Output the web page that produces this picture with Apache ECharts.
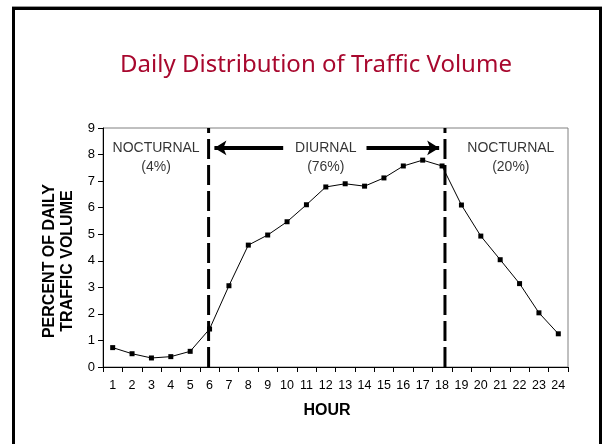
<!DOCTYPE html>
<html>
<head>
<meta charset="utf-8">
<script src="https://cdn.jsdelivr.net/npm/echarts@6/dist/echarts.min.js"></script>
<style>html,body{margin:0;padding:0;background:#fff;}#c{width:602px;height:444px;}</style>
</head>
<body>
<div id="c"></div>
<script>
// ---- data ----
const hours = ['1','2','3','4','5','6','7','8','9','10','11','12','13','14','15','16','17','18','19','20','21','22','23','24'];
const percentOfDaily = [0.73,0.50,0.34,0.39,0.59,1.43,3.06,4.59,4.97,5.47,6.11,6.78,6.90,6.81,7.12,7.57,7.79,7.57,6.10,4.93,4.04,3.14,2.04,1.25];
const yTicks = [0,1,2,3,4,5,6,7,8,9];
// period dividers (in hour-position units, 0..24)
const dividers = [5.45, 17.65];
// annotations: [x, y, text]
const periodLabels = [
  [2.74, 7.9, 'NOCTURNAL\n(4%)'],
  [11.5, 7.9, 'DIURNAL\n(76%)'],
  [21.05, 7.9, 'NOCTURNAL\n(20%)']
];
const arrows = [
  [[9.3, 8.25], [5.75, 8.25]],
  [[13.6, 8.25], [17.35, 8.25]]
];

const chart = echarts.init(document.getElementById('c'), null, {renderer:'canvas'});
const font = 'Liberation Sans, Arial, sans-serif';

const series = [{
  type: 'line',
  xAxisIndex: 0, yAxisIndex: 0,
  data: percentOfDaily,
  symbol: 'rect', symbolSize: 5,
  itemStyle: {color:'#000'},
  lineStyle: {color:'#000', width: 1},
  animation: false, z: 5
}];
dividers.forEach(function(d){
  series.push({
    type:'line', xAxisIndex:1, yAxisIndex:0,
    data:[[d,0],[d,9]], symbol:'none',
    lineStyle:{color:'#000', width:3, type:[20,6]},
    animation:false, z:4
  });
});
series.push({
  type:'scatter', xAxisIndex:1, yAxisIndex:0,
  symbolSize: 0,
  data: periodLabels.map(function(p){return {value:[p[0],p[1]], name:p[2]};}),
  label:{show:true, position:'inside', formatter:function(p){return p.name;},
    color:'#000', fontFamily:font, fontSize:14, lineHeight:19, align:'center', verticalAlign:'middle'},
  animation:false, silent:true, z:6
});
series.push({
  type:'line', xAxisIndex:1, yAxisIndex:0, data:[], symbol:'none',
  markLine:{
    silent:true, animation:false,
    symbol:['none','arrow'], symbolSize:[11,12],
    lineStyle:{color:'#000', width:4, type:'solid'},
    label:{show:false},
    data: arrows.map(function(a){return [{coord:a[0]},{coord:a[1]}];})
  }
});

chart.setOption({
  animation:false,
  backgroundColor:'#fff',
  title:{
    text:'Daily Distribution of Traffic Volume',
    left:311, top:48, textAlign:'center',
    textStyle:{fontFamily:'Noto Sans, sans-serif', fontWeight:'normal', fontSize:24, color:'#a8082e'}
  },
  grid:{left:103, right:34, top:128, bottom:77, show:true, borderColor:'#808080', borderWidth:1, backgroundColor:'transparent'},
  xAxis:[{
    type:'category', data:hours, boundaryGap:true,
    axisLine:{lineStyle:{color:'#000', width:1}},
    axisTick:{show:true, alignWithLabel:false, length:5, lineStyle:{color:'#000'}},
    axisLabel:{color:'#000', fontFamily:font, fontSize:12.5, margin:12, interval:0},
    splitLine:{show:false}
  },{
    type:'value', min:0, max:24, show:false
  }],
  yAxis:[{
    type:'value', min:0, max:9, interval:1,
    axisLine:{show:true, lineStyle:{color:'#000', width:1}},
    axisTick:{show:true, length:5, lineStyle:{color:'#000'}},
    axisLabel:{color:'#000', fontFamily:font, fontSize:13, margin:8,
      formatter:function(v){return yTicks.indexOf(v)>=0 ? String(v) : '';}},
    splitLine:{show:false}
  }],
  graphic:[
    {type:'rect', shape:{x:13.5, y:8.5, width:587, height:460},
     style:{fill:'none', stroke:'#000', lineWidth:3}, z:100},
    {type:'line', shape:{x1:12, y1:6.5, x2:602, y2:6.5}, style:{stroke:'#999', lineWidth:1}, z:100},
    {type:'text', x:0, style:{text:'HOUR', font:'bold 16px Liberation Sans, Arial, sans-serif', fill:'#000', textAlign:'center', textVerticalAlign:'middle', x:327, y:411}},
    {type:'text', rotation:Math.PI/2, x:59, y:261,
     style:{text:'PERCENT OF DAILY\nTRAFFIC VOLUME', font:'bold 16px Liberation Sans, Arial, sans-serif', fill:'#000', textAlign:'center', textVerticalAlign:'middle', lineHeight:18}}
  ],
  series: series
});
</script>
</body>
</html>
